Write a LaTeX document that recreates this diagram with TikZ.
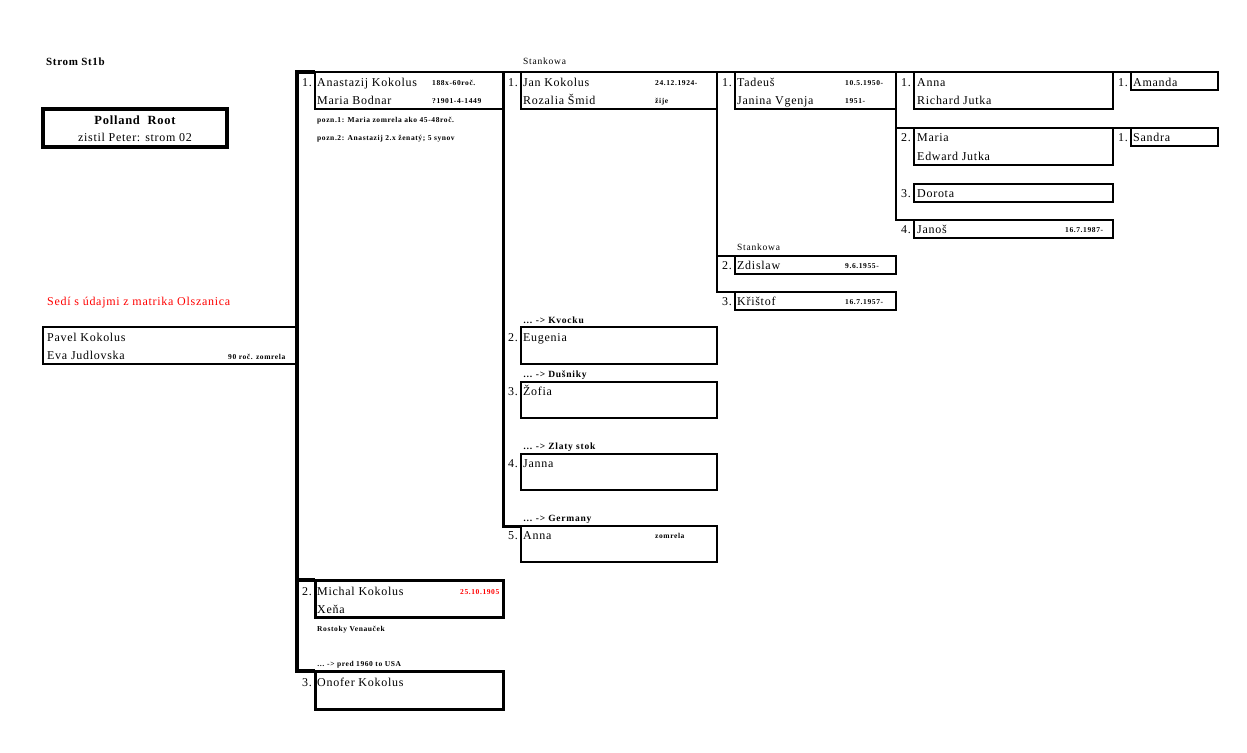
\documentclass[tikz,border=0pt]{standalone}
\usepackage{fontspec}
\setmainfont{Liberation Serif}
\newfontfamily\nmfont[LetterSpace=6]{Liberation Serif}
\newfontfamily\smfont[LetterSpace=8]{Liberation Serif}
\newfontfamily\arfont[LetterSpace=8]{Liberation Serif}
\definecolor{pred}{RGB}{255,0,0}
\begin{document}
\begin{tikzpicture}[x=1pt,y=-1pt,
  box/.style={draw, line width=2pt, inner sep=0pt, outer sep=0pt, anchor=north west, rectangle},
  bbox/.style={box, line width=3pt},
  bar/.style={line width=4.5pt, line join=miter},
  barm/.style={line width=3pt, line join=miter},
  bars/.style={line width=2.5pt, line join=miter},
  nm/.style={anchor=base west, inner sep=0pt, font=\nmfont\fontsize{12}{12}\selectfont},
  sm/.style={anchor=base west, inner sep=0pt, font=\smfont\bfseries\fontsize{7.5}{7.5}\selectfont},
  ar/.style={anchor=base west, inner sep=0pt, font=\arfont\bfseries\fontsize{9.5}{9.5}\selectfont},
  st/.style={anchor=base west, inner sep=0pt, font=\arfont\fontsize{9.5}{9.5}\selectfont},
]
\useasboundingbox (0,0) rectangle (1247,752);

% ---------- boxes ----------
\node[box, line width=4.5pt, minimum width=184pt, minimum height=38pt] (root) at (43,109) {};
\node[box, minimum width=254pt, minimum height=37pt] (pavel) at (43,327) {};
\node[box, minimum width=188pt, minimum height=37pt] (anast) at (315,72) {};
\node[bbox, minimum width=188pt, minimum height=37pt] (michal) at (315,580) {};
\node[bbox, minimum width=188pt, minimum height=38pt] (onofer) at (315,671) {};
\node[box, minimum width=196pt, minimum height=37pt] (jan) at (521,72) {};
\node[box, minimum width=196pt, minimum height=37pt] (eugenia) at (521,327) {};
\node[box, minimum width=196pt, minimum height=36pt] (zofia) at (521,382) {};
\node[box, minimum width=196pt, minimum height=36pt] (janna) at (521,454) {};
\node[box, minimum width=196pt, minimum height=36pt] (anna5) at (521,526) {};
\node[box, minimum width=161pt, minimum height=37pt] (tadeus) at (735,72) {};
\node[box, line width=2.5pt, minimum width=161pt, minimum height=18pt] (zdislaw) at (735,256) {};
\node[box, line width=2.5pt, minimum width=161pt, minimum height=18pt] (kristof) at (735,292) {};
\node[box, minimum width=199pt, minimum height=37pt] (annaE) at (914,72) {};
\node[box, minimum width=199pt, minimum height=37pt] (maria) at (914,128) {};
\node[box, minimum width=199pt, minimum height=18pt] (dorota) at (914,184) {};
\node[box, minimum width=199pt, minimum height=18pt] (janos) at (914,220) {};
\node[box, minimum width=87pt, minimum height=18pt] (amanda) at (1131,72) {};
\node[box, minimum width=87pt, minimum height=18pt] (sandra) at (1131,128) {};

% ---------- connectors ----------
\draw[bar] (anast.north west) -- ++(-18,0) |- (onofer.north west);
\draw[bar] (michal.north west) -- ++(-18,0);
\draw[barm] (anast.north east) |- (anna5.north west);
\draw[line width=2pt] (anast.north east) -- (jan.north west);
\draw[bars] (jan.north east) |- (kristof.north west);
\draw[line width=2pt] (jan.north east) -- (tadeus.north west);
\draw[line width=2.5pt] (zdislaw.north west) -- ++(-18,0);
\draw[bars] (tadeus.north east) |- (janos.north west);
\draw[line width=2pt] (tadeus.north east) -- (annaE.north west);
\draw[line width=2pt] (maria.north west) -- ++(-18,0);
\draw[line width=2pt] (annaE.north east) -- (amanda.north west);
\draw[line width=2pt] (maria.north east) -- (sandra.north west);

% ---------- texts ----------
\node[anchor=base west, inner sep=0pt, font=\nmfont\bfseries\fontsize{11}{11}\selectfont] (title) at (46,66) {Strom St1b};
\node[anchor=base, inner sep=0pt, font=\nmfont\bfseries\fontsize{12.5}{12.5}\selectfont] (rt1) at (135,124) {Polland\ \ Root};
\node[anchor=base, inner sep=0pt, font=\nmfont\fontsize{12}{12}\selectfont] (rt2) at (135,141) {zistil Peter: strom 02};
\node[nm, text=pred] (sedi) at (47,305) {Sedí s údajmi z matrika Olszanica};

\node[nm] (p1) at (47,341) {Pavel Kokolus};
\node[nm] (p2) at (47,359) {Eva Judlovska};
\node[sm] (p3) at (228,359) {90 roč. zomrela};

\node[nm] (n1) at (302,86) {1.};
\node[nm] (a1) at (317,86) {Anastazij Kokolus};
\node[sm] (a2) at (432,85) {188x-60roč.};
\node[nm] (a3) at (317,104) {Maria Bodnar};
\node[sm] (a4) at (432,103) {?1901-4-1449};
\node[sm] (a5) at (317,122.5) {pozn.1: Maria zomrela ako 45-48roč.};
\node[sm] (a6) at (317,140.5) {pozn.2: Anastazij 2.x ženatý; 5 synov};

\node[st] (s1) at (523,65) {Stankowa};
\node[nm] (n2) at (508,86) {1.};
\node[nm] (j1) at (523,86) {Jan Kokolus};
\node[sm] (j2) at (655,85) {24.12.1924-};
\node[nm] (j3) at (523,104) {Rozalia Šmid};
\node[sm] (j4) at (655,103.5) {žije};

\node[nm] (n3) at (722,86) {1.};
\node[nm] (t1) at (737,86) {Tadeuš};
\node[sm] (t2) at (845,85.5) {10.5.1950-};
\node[nm] (t3) at (737,104) {Janina Vgenja};
\node[sm] (t4) at (845,103.5) {1951-};

\node[nm] (n4) at (901,86) {1.};
\node[nm] (e1) at (917,86) {Anna};
\node[nm] (e2) at (917,104) {Richard Jutka};
\node[nm] (n5) at (1118,86) {1.};
\node[nm] (f1) at (1133,86) {Amanda};
\node[nm] (n6) at (901,141) {2.};
\node[nm] (e3) at (917,141) {Maria};
\node[nm] (e4) at (917,160) {Edward Jutka};
\node[nm] (n7) at (1118,141) {1.};
\node[nm] (f2) at (1133,141) {Sandra};
\node[nm] (n8) at (901,197) {3.};
\node[nm] (e5) at (917,197) {Dorota};
\node[nm] (n9) at (901,233) {4.};
\node[nm] (e6) at (917,233) {Janoš};
\node[sm] (e7) at (1065,232.5) {16.7.1987-};

\node[st] (s2) at (737,250) {Stankowa};
\node[nm] (n10) at (722,269) {2.};
\node[nm] (d1) at (737,269) {Zdislaw};
\node[sm] (d2) at (845,268.5) {9.6.1955-};
\node[nm] (n11) at (722,305) {3.};
\node[nm] (d3) at (737,305) {Křištof};
\node[sm] (d4) at (845,304.5) {16.7.1957-};

\node[ar] (r1) at (523,323) {… -> Kvocku};
\node[nm] (n12) at (508,341) {2.};
\node[nm] (c1) at (523,341) {Eugenia};
\node[ar] (r2) at (523,377) {… -> Dušniky};
\node[nm] (n13) at (508,395) {3.};
\node[nm] (c2) at (523,395) {Žofia};
\node[ar] (r3) at (523,449) {… -> Zlaty stok};
\node[nm] (n14) at (508,467) {4.};
\node[nm] (c3) at (523,467) {Janna};
\node[ar] (r4) at (523,521) {… -> Germany};
\node[nm] (n15) at (508,539) {5.};
\node[nm] (c4) at (523,539) {Anna};
\node[sm] (c5) at (655,538.5) {zomrela};

\node[nm] (n16) at (302,595) {2.};
\node[nm] (m1) at (317,595) {Michal Kokolus};
\node[sm, text=pred] (m2) at (460,594.5) {25.10.1905};
\node[nm] (m3) at (317,613) {Xeňa};
\node[sm] (m4) at (317,631) {Rostoky Venauček};
\node[sm] (m5) at (317,666) {… -> pred 1960 to USA};
\node[nm] (n17) at (302,686) {3.};
\node[nm] (o1) at (317,686) {Onofer Kokolus};
\end{tikzpicture}
\end{document}
